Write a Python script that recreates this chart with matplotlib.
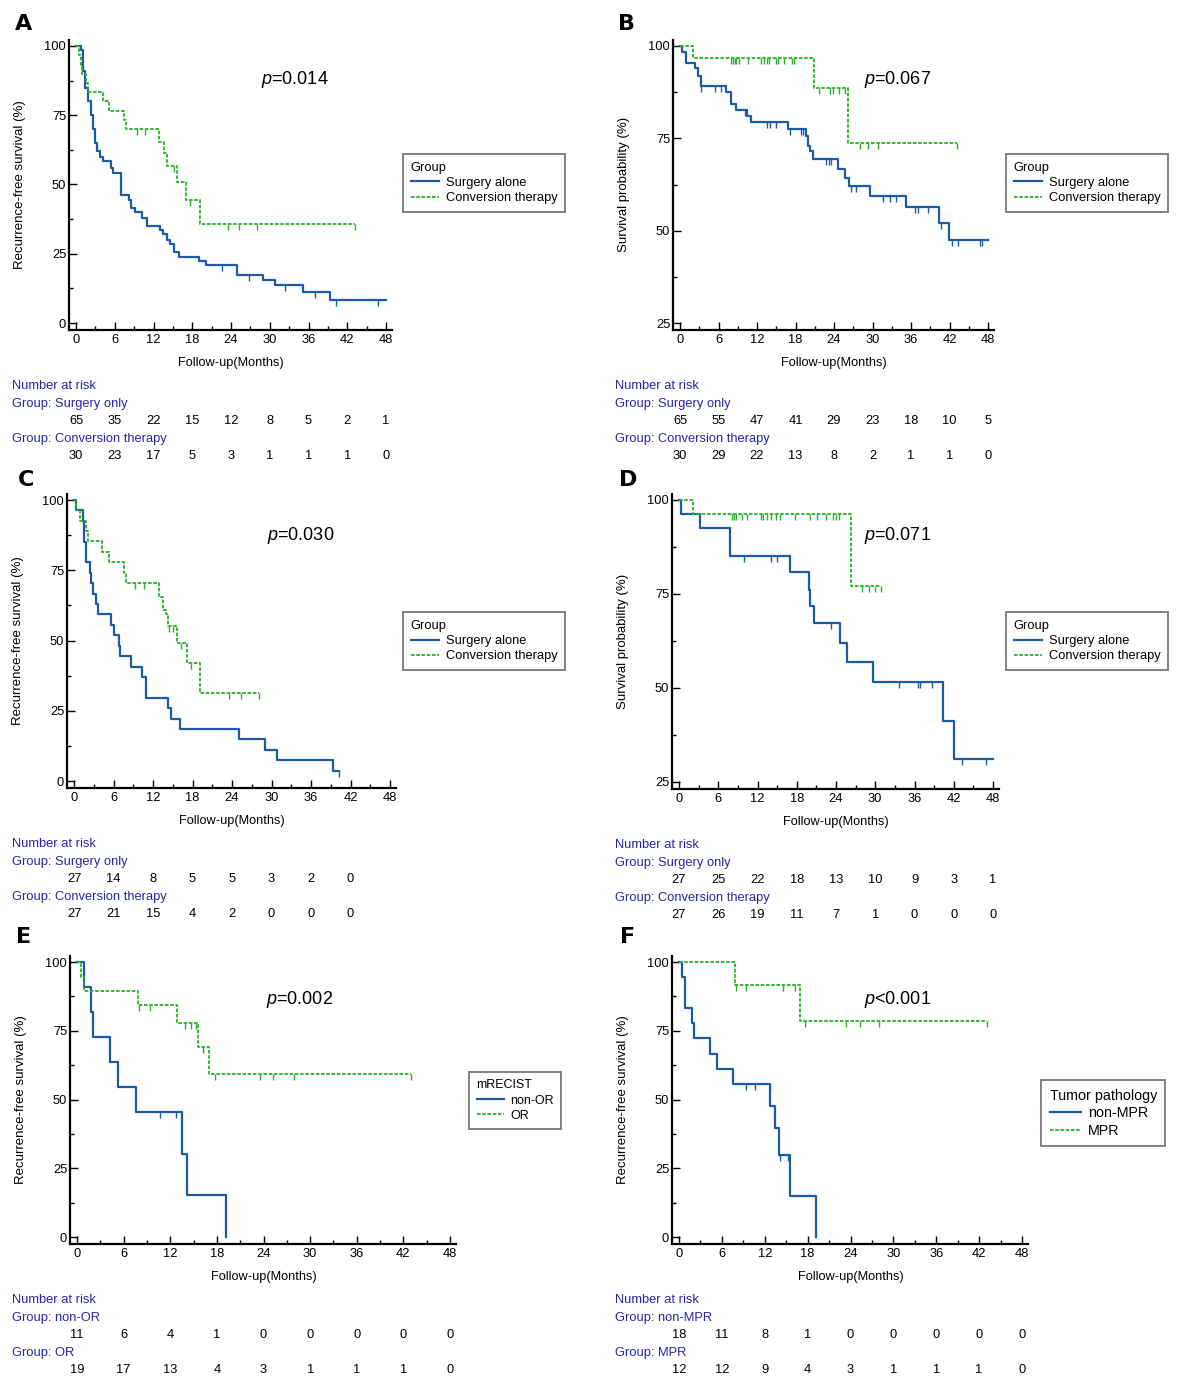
import numpy as np
import matplotlib
matplotlib.use("Agg")
import matplotlib.pyplot as plt
from matplotlib.path import Path
from matplotlib.ticker import MultipleLocator

W, H = 1200, 1382

plt.rcParams['font.family'] = ['Liberation Sans', 'DejaVu Sans']
plt.rcParams['mathtext.fontset'] = 'custom'
plt.rcParams['mathtext.it'] = 'Liberation Sans:italic'
plt.rcParams['mathtext.rm'] = 'Liberation Sans'

BLUE = '#1d5aa8'
GREEN = '#2bb02b'
RISK_BLUE = '#2626a8'

month_ticks = [0, 6, 12, 18, 24, 30, 36, 42, 48]

# ---- panel A: RFS, all patients ----
a_surg_t = [0, 0.7, 1.1, 1.4, 1.8, 2.3, 2.7, 3.0, 3.3, 3.7, 4.2, 5.4, 5.8, 6.9, 8.2, 8.5, 9.2,
            10.2, 11.0, 13.0, 13.4, 14.1, 14.6, 15.1, 16.0, 19.0, 20.1, 24.9, 29.0, 30.8,
            35.2, 39.4, 48.0]
a_surg_s = [100, 98.5, 91, 85, 80, 75, 70, 65, 62, 60, 58.5, 56, 54, 46.3, 44.5, 41.5, 40.1,
            38, 35.1, 33.5, 32, 30, 28.5, 25.6, 24, 22.5, 20.8, 17.4, 15.6, 13.6,
            11.2, 8.4, 8.4]
a_surg_cens = [22.6, 26.8, 32.4, 37.0, 40.2, 46.7]
a_conv_t = [0, 0.4, 0.7, 1.0, 1.5, 1.8, 4.2, 5.1, 7.5, 7.8, 12.9, 13.7, 14.1, 15.6, 17.0, 19.2, 43.2]
a_conv_s = [100, 96.7, 93.3, 90, 86.7, 83.3, 80, 76.7, 73.3, 70, 65.5, 61.5, 56.8, 51, 44.5, 35.7, 35.7]
a_conv_cens = [9.5, 10.7, 15.2, 17.7, 23.5, 25.3, 28.0, 43.2]
a_risk_surg = [65, 35, 22, 15, 12, 8, 5, 2, 1]
a_risk_conv = [30, 23, 17, 5, 3, 1, 1, 1, 0]

# ---- panel B: OS, all patients ----
b_surg_t = [0, 0.35, 1.0, 2.4, 2.85, 3.3, 7.1, 7.9, 8.8, 10.4, 11.1, 16.9, 19.7, 20.0, 20.3, 20.7,
            24.7, 25.7, 26.3, 29.6, 35.2, 40.3, 41.9, 48.0]
b_surg_s = [100, 98.5, 95.4, 94, 92, 89.2, 87.6, 84.3, 82.7, 81, 79.3, 77.5, 75.5, 73, 71.5, 69.3,
            66.8, 64.3, 62.2, 59.5, 56.4, 52.2, 47.5, 47.5]
b_surg_cens = [3.3, 5.4, 6.4, 10.1, 13.5, 14.0, 15.0, 17.2, 18.9, 19.2, 22.8, 23.2, 23.5, 26.6,
               27.4, 31.7, 32.7, 33.7, 36.7, 37.1, 38.6, 40.6, 42.4, 43.3, 46.7, 47.0]
b_conv_t = [0, 2.1, 20.9, 26.2, 43.1]
b_conv_s = [100, 96.7, 88.5, 73.8, 73.8]
b_conv_cens = [7.9, 8.2, 8.5, 8.8, 9.2, 10.6, 12.7, 13.1, 13.5, 13.9, 14.9, 15.3, 16.2, 17.4, 17.7,
               21.6, 23.4, 23.9, 24.8, 25.7, 28.1, 29.3, 30.9, 43.1]
b_risk_surg = [65, 55, 47, 41, 29, 23, 18, 10, 5]
b_risk_conv = [30, 29, 22, 13, 8, 2, 1, 1, 0]

# ---- panel C: RFS, matched ----
c_surg_t = [0, 0.3, 1.3, 1.5, 1.75, 2.4, 2.6, 2.9, 3.4, 3.7, 5.6, 6.0, 6.9, 7.0, 8.7, 10.3, 11.0,
            14.3, 14.8, 16.1, 25.0, 29.0, 30.9, 39.4, 40.3]
c_surg_s = [100, 96.3, 92.6, 85.2, 77.8, 74.1, 70.4, 66.7, 63, 59.3, 55.6, 51.9, 48.1, 44.5, 40.7,
            37, 29.6, 25.9, 22.2, 18.5, 14.8, 11.1, 7.4, 3.7, 3.7]
c_surg_cens = [40.3]
c_conv_t = [0, 0.3, 0.9, 1.75, 2.15, 4.25, 5.35, 7.55, 7.85, 12.9, 13.5, 14.0, 14.25, 15.7, 17.2,
            19.2, 28.1]
c_conv_s = [100, 96.3, 92.6, 88.9, 85.3, 81.5, 77.8, 74, 70.5, 65.5, 61, 59.5, 55.1, 49, 42.1,
            31.3, 31.3]
c_conv_cens = [9.3, 10.6, 14.5, 15.1, 16.3, 17.7, 23.6, 25.3, 28.1]
c_risk_surg = [27, 14, 8, 5, 5, 3, 2, 0]
c_risk_conv = [27, 21, 15, 4, 2, 0, 0, 0]

# ---- panel D: OS, matched ----
d_surg_t = [0, 0.3, 3.2, 7.85, 16.9, 19.9, 20.1, 20.7, 24.6, 25.7, 29.6, 40.3, 42.0, 48.0]
d_surg_s = [100, 96.3, 92.5, 85.1, 80.8, 76, 71.7, 67.2, 62, 56.9, 51.7, 41.3, 31, 31]
d_surg_cens = [9.95, 14.0, 15.0, 23.3, 33.6, 36.5, 36.9, 38.7, 43.2, 47.0]
d_conv_t = [0, 2.15, 26.3, 30.95]
d_conv_s = [100, 96.3, 77, 77]
d_conv_cens = [8.1, 8.4, 8.7, 9.6, 10.4, 12.5, 12.9, 13.4, 14.0, 14.8, 15.4, 17.7, 19.95, 21.1,
               22.4, 23.6, 24.0, 24.4, 27.9, 29.1, 30.0, 30.95]
d_risk_surg = [27, 25, 22, 18, 13, 10, 9, 3, 1]
d_risk_conv = [27, 26, 19, 11, 7, 1, 0, 0, 0]

# ---- panel E: RFS by mRECIST ----
e_nonor_t = [0, 0.85, 1.8, 2.05, 4.3, 5.25, 7.6, 13.5, 14.1, 19.2]
e_nonor_s = [100, 90.9, 81.8, 72.7, 63.6, 54.5, 45.5, 30.3, 15.2, 0]
e_nonor_cens = [10.7, 12.7]
e_or_t = [0, 0.5, 0.85, 7.8, 12.9, 15.6, 17.0, 43.0]
e_or_s = [100, 94.7, 89.5, 84.2, 77.8, 69.1, 59.2, 59.2]
e_or_cens = [8.0, 9.4, 13.9, 14.7, 15.3, 16.2, 17.7, 23.5, 25.2, 27.9, 43.0]
e_risk_nonor = [11, 6, 4, 1, 0, 0, 0, 0, 0]
e_risk_or = [19, 17, 13, 4, 3, 1, 1, 1, 0]

# ---- panel F: RFS by tumor pathology ----
f_nonmpr_t = [0, 0.43, 0.8, 0.9, 1.77, 2.03, 4.3, 5.25, 7.55, 12.8, 13.45, 14.0, 15.6, 19.2]
f_nonmpr_s = [100, 94.5, 88.9, 83.3, 77.8, 72.3, 66.7, 61.1, 55.6, 47.7, 39.6, 29.7, 14.8, 0]
f_nonmpr_cens = [9.4, 10.6, 12.75, 14.1, 15.3]
f_mpr_t = [0, 7.77, 17.0, 43.1]
f_mpr_s = [100, 91.6, 78.5, 78.5]
f_mpr_cens = [8.0, 9.4, 14.6, 16.2, 17.7, 23.4, 25.3, 28.0, 43.1]
f_risk_nonmpr = [18, 11, 8, 1, 0, 0, 0, 0, 0]
f_risk_mpr = [12, 12, 9, 4, 3, 1, 1, 1, 0]

panels = [
    dict(letter='A', p='0.014', op='=', ylabel='Recurrence-free survival (%)', ymin=0,
         curves=[(a_surg_t, a_surg_s, a_surg_cens), (a_conv_t, a_conv_s, a_conv_cens)],
         legend_title='Group', names=['Surgery alone', 'Conversion therapy'],
         risk_names=['Group: Surgery only', 'Group: Conversion therapy'],
         risk=[a_risk_surg, a_risk_conv]),
    dict(letter='B', p='0.067', op='=', ylabel='Survival probability (%)', ymin=25,
         curves=[(b_surg_t, b_surg_s, b_surg_cens), (b_conv_t, b_conv_s, b_conv_cens)],
         legend_title='Group', names=['Surgery alone', 'Conversion therapy'],
         risk_names=['Group: Surgery only', 'Group: Conversion therapy'],
         risk=[b_risk_surg, b_risk_conv]),
    dict(letter='C', p='0.030', op='=', ylabel='Recurrence-free survival (%)', ymin=0,
         curves=[(c_surg_t, c_surg_s, c_surg_cens), (c_conv_t, c_conv_s, c_conv_cens)],
         legend_title='Group', names=['Surgery alone', 'Conversion therapy'],
         risk_names=['Group: Surgery only', 'Group: Conversion therapy'],
         risk=[c_risk_surg, c_risk_conv]),
    dict(letter='D', p='0.071', op='=', ylabel='Survival probability (%)', ymin=25,
         curves=[(d_surg_t, d_surg_s, d_surg_cens), (d_conv_t, d_conv_s, d_conv_cens)],
         legend_title='Group', names=['Surgery alone', 'Conversion therapy'],
         risk_names=['Group: Surgery only', 'Group: Conversion therapy'],
         risk=[d_risk_surg, d_risk_conv]),
    dict(letter='E', p='0.002', op='=', ylabel='Recurrence-free survival (%)', ymin=0,
         curves=[(e_nonor_t, e_nonor_s, e_nonor_cens), (e_or_t, e_or_s, e_or_cens)],
         legend_title='mRECIST', names=['non-OR', 'OR'],
         risk_names=['Group: non-OR', 'Group: OR'],
         risk=[e_risk_nonor, e_risk_or]),
    dict(letter='F', p='0.001', op='<', ylabel='Recurrence-free survival (%)', ymin=0,
         curves=[(f_nonmpr_t, f_nonmpr_s, f_nonmpr_cens), (f_mpr_t, f_mpr_s, f_mpr_cens)],
         legend_title='Tumor pathology', names=['non-MPR', 'MPR'],
         risk_names=['Group: non-MPR', 'Group: MPR'],
         risk=[f_risk_nonmpr, f_risk_mpr]),
]

# pixel layout: x of 0 and 48 months, y pixel of ymin and 100, letter, p text, legend corner, legend font
layout = [
    dict(x0=76, x48=386, ylo=323, yhi=46, letter=(24, 24), ptxt=(295, 80), leg=(403, 154), legfs=9.3, txt=12),
    dict(x0=680, x48=988, ylo=323, yhi=46, letter=(627, 24), ptxt=(898, 80), leg=(1006, 154), legfs=9.3, txt=615),
    dict(x0=74, x48=390, ylo=781, yhi=500, letter=(26, 480), ptxt=(301, 535), leg=(403, 612), legfs=9.3, txt=12),
    dict(x0=679, x48=993, ylo=782, yhi=500, letter=(628, 480), ptxt=(898, 536), leg=(1006, 612), legfs=9.3, txt=615),
    dict(x0=77, x48=450, ylo=1237, yhi=962, letter=(24, 937), ptxt=(300, 1000), leg=(469, 1072), legfs=9.0, txt=12),
    dict(x0=679, x48=1022, ylo=1237, yhi=962, letter=(628, 937), ptxt=(898, 1000), leg=(1041, 1080), legfs=10.3, txt=615),
]

cens_marker = Path([(0, 0), (0, -1)], [Path.MOVETO, Path.LINETO])


def fx(px):
    return px / W


def fy(py):
    return 1 - py / H


def level_at(t, s, x):
    i = np.searchsorted(np.asarray(t), x, side='right') - 1
    return np.asarray(s)[np.clip(i, 0, len(s) - 1)]


fig = plt.figure(figsize=(W / 100, H / 100), dpi=100)

for pan, lay in zip(panels, layout):
    ymin = pan['ymin']
    ppm = (lay['x48'] - lay['x0']) / 48.0
    ppv = (lay['ylo'] - lay['yhi']) / (100.0 - ymin)
    left = lay['x0'] - 7
    right = lay['x48'] + 6
    top = lay['yhi'] - 6
    bottom = lay['ylo'] + 7
    ax = fig.add_axes([fx(left), fy(bottom), (right - left) / W, (bottom - top) / H])
    ax.set_xlim(-7 / ppm, 48 + 6 / ppm)
    ax.set_ylim(ymin - 7 / ppv, 100 + 6 / ppv)

    styles = [dict(color=BLUE, lw=1.6, ls='-'), dict(color=GREEN, lw=1.3, ls=(0, (2.0, 0.9)))]
    handles = []
    for (t, s, cens), st, name in zip(pan['curves'], styles, pan['names']):
        h, = ax.step(t, s, where='post', color=st['color'], lw=st['lw'], ls=st['ls'], label=name)
        handles.append(h)
        cy = level_at(t, s, cens)
        ax.plot(cens, cy, ls='none', marker=cens_marker, markersize=9,
                markeredgewidth=1.0, color=st['color'])

    for side in ['top', 'right']:
        ax.spines[side].set_visible(False)
    for side in ['left', 'bottom']:
        ax.spines[side].set_linewidth(1.6)
    ax.set_xticks(month_ticks)
    ax.xaxis.set_minor_locator(MultipleLocator(3))
    ax.set_yticks(np.arange(ymin, 101, 25))
    ax.yaxis.set_minor_locator(MultipleLocator(12.5))
    ax.tick_params(which='major', direction='in', length=6, width=1.0, labelsize=9.3, pad=3)
    ax.tick_params(which='minor', direction='in', length=3, width=1.0)
    ax.tick_params(axis='y', pad=2)

    yc = (lay['ylo'] + lay['yhi']) / 2
    fig.text(fx(lay['x0'] - 56), fy(yc), pan['ylabel'], rotation=90, ha='center', va='center', fontsize=9.5)
    fig.text(fx((lay['x0'] + lay['x48']) / 2), fy(lay['ylo'] + 40), 'Follow-up(Months)',
             ha='center', va='center', fontsize=9.2)

    fig.text(fx(lay['letter'][0]), fy(lay['letter'][1]), pan['letter'], ha='center', va='center',
             fontsize=16, fontweight='bold', family=['DejaVu Sans'])
    fig.text(fx(lay['ptxt'][0]), fy(lay['ptxt'][1]), r'$\it{p}$' + pan['op'] + pan['p'],
             ha='center', va='center', fontsize=13)

    leg = ax.legend(handles=handles, title=pan['legend_title'], loc='upper left',
                    bbox_to_anchor=(fx(lay['leg'][0]), fy(lay['leg'][1])),
                    bbox_transform=fig.transFigure, borderaxespad=0, fancybox=False,
                    fontsize=lay['legfs'], title_fontsize=lay['legfs'], alignment='left',
                    handlelength=2.2, handletextpad=0.5, labelspacing=0.25,
                    borderpad=0.6)
    leg.get_frame().set_edgecolor('#555555')
    leg.get_frame().set_linewidth(1.3)

    # number at risk table
    rows = [lay['ylo'] + 63, lay['ylo'] + 81, lay['ylo'] + 98, lay['ylo'] + 116, lay['ylo'] + 133]
    fig.text(fx(lay['txt']), fy(rows[0]), 'Number at risk', color=RISK_BLUE, fontsize=9.3, va='center')
    fig.text(fx(lay['txt']), fy(rows[1]), pan['risk_names'][0], color=RISK_BLUE, fontsize=9.3, va='center')
    fig.text(fx(lay['txt']), fy(rows[3]), pan['risk_names'][1], color=RISK_BLUE, fontsize=9.3, va='center')
    for vals, ry in zip(pan['risk'], [rows[2], rows[4]]):
        for m, v in zip(month_ticks, vals):
            fig.text(fx(lay['x0'] + m * ppm), fy(ry), str(v), ha='center', va='center', fontsize=9.3)

fig.savefig('out.png', dpi=100, facecolor='white')
